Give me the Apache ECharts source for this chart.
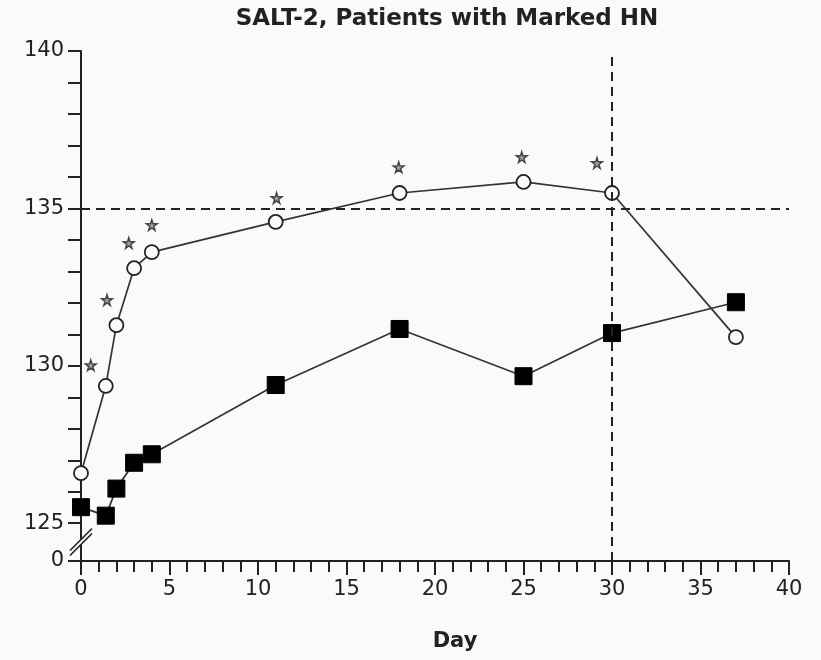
<!DOCTYPE html>
<html><head><meta charset="utf-8">
<script src="https://cdn.jsdelivr.net/npm/echarts@6/dist/echarts.min.js"></script>
<style>html,body{margin:0;padding:0;background:#fafafa}#c{width:821px;height:660px}</style>
</head><body><div id="c"></div>
<script>
const days = [0, 1.4, 2, 3, 4, 11, 18, 25, 30, 37];
const openCircleValues = [126.59, 129.36, 131.29, 133.1, 133.61, 134.57, 135.49, 135.84, 135.49, 130.91];
const filledSquareValues = [125.51, 125.24, 126.1, 126.92, 127.19, 129.39, 131.17, 129.67, 131.04, 132.02];
const starDays = [0.55, 1.47, 2.7, 4.0, 11.05, 17.95, 24.9, 29.15];
const starValues = [130.02, 132.09, 133.9, 134.47, 135.33, 136.31, 136.63, 136.44];
const yMin = 123.8, yMax = 140;
const yLabelValues = [123.8, 125, 130, 135, 140];
const yLabelTexts = ['0', '125', '130', '135', '140'];
const yTickValues = [123.8, 125, 126, 127, 128, 129, 130, 131, 132, 133, 134, 135, 136, 137, 138, 139, 140];
const refDay = 30, refValue = 135;
const breakValue = 124.45;

const FONT = 'DejaVu Sans';
const INK = '#222';
const chart = echarts.init(document.getElementById('c'));
const pair = (xs, ys) => xs.map((x, i) => [x, ys[i]]);
const STAR = 'path://M50,0 L61,35 L98,35 L68,57 L79,91 L50,70 L21,91 L32,57 L2,35 L39,35 Z';

chart.setOption({
  backgroundColor: '#fafafa',
  animation: false,
  title: {
    text: 'SALT-2, Patients with Marked HN',
    left: 442, top: 3, textAlign: 'center',
    textStyle: {fontFamily: FONT, fontSize: 23, fontWeight: 'bold', color: INK}
  },
  grid: {left: 81, right: 32, top: 51, bottom: 99},
  xAxis: {
    type: 'value', min: 0, max: 40, interval: 5,
    name: 'Day', nameLocation: 'middle', nameGap: 70,
    nameTextStyle: {fontFamily: FONT, fontSize: 21, fontWeight: 'bold', color: INK, padding: [0, 0, 0, 40]},
    axisLine: {show: true, onZero: false, lineStyle: {color: INK, width: 2}},
    axisTick: {show: true, inside: false, length: 14, lineStyle: {color: INK, width: 2}},
    minorTick: {show: true, splitNumber: 5, length: 11, lineStyle: {color: INK, width: 2}},
    axisLabel: {fontFamily: FONT, fontSize: 21, color: INK, margin: 18},
    splitLine: {show: false}
  },
  yAxis: {
    type: 'value', min: yMin, max: yMax,
    axisLine: {show: true, lineStyle: {color: INK, width: 2}},
    axisTick: {show: true, length: 13, customValues: yTickValues, lineStyle: {color: INK, width: 2}},
    axisLabel: {
      fontFamily: FONT, fontSize: 21, color: INK, margin: 17,
      customValues: yLabelValues,
      formatter: v => { const i = yLabelValues.findIndex(t => Math.abs(t - v) < 1e-6); return i >= 0 ? yLabelTexts[i] : ''; }
    },
    splitLine: {show: false}
  },
  series: [
    {
      type: 'line', data: [], silent: true,
      markLine: {
        symbol: 'none', silent: true, label: {show: false},
        lineStyle: {type: [9, 6], color: INK, width: 2},
        data: [
          [{coord: [0, refValue]}, {coord: [40, refValue]}],
          [{coord: [refDay, yMin]}, {coord: [refDay, yMax]}]
        ]
      }
    },
    {
      type: 'line', data: pair(days, filledSquareValues),
      symbol: 'rect', symbolSize: 17,
      lineStyle: {color: '#333', width: 1.7},
      itemStyle: {color: '#000', borderColor: '#000'}, z: 3
    },
    {
      type: 'line', data: pair(days, openCircleValues),
      symbol: 'circle', symbolSize: 14, showAllSymbol: true,
      lineStyle: {color: '#333', width: 1.7},
      itemStyle: {color: '#fafafa', borderColor: '#222', borderWidth: 1.8}, z: 4
    },
    {
      type: 'scatter', data: pair(starDays, starValues),
      symbol: STAR, symbolSize: 11,
      itemStyle: {color: '#888', borderColor: '#222', borderWidth: 1.4}, z: 5
    }
  ]
});

const p = chart.convertToPixel({xAxisIndex: 0, yAxisIndex: 0}, [0, breakValue]);
const bx = p[0], by = p[1];
chart.setOption({
  graphic: [
    {type: 'polygon', z: 100, shape: {points: [[bx - 11, by + 10], [bx + 11, by - 12], [bx + 11, by - 7], [bx - 11, by + 15]]}, style: {fill: '#fafafa'}},
    {type: 'line', z: 101, shape: {x1: bx - 11, y1: by + 10, x2: bx + 11, y2: by - 12}, style: {stroke: INK, lineWidth: 1.6}},
    {type: 'line', z: 101, shape: {x1: bx - 11, y1: by + 15, x2: bx + 11, y2: by - 7}, style: {stroke: INK, lineWidth: 1.6}}
  ]
});
</script></body></html>
